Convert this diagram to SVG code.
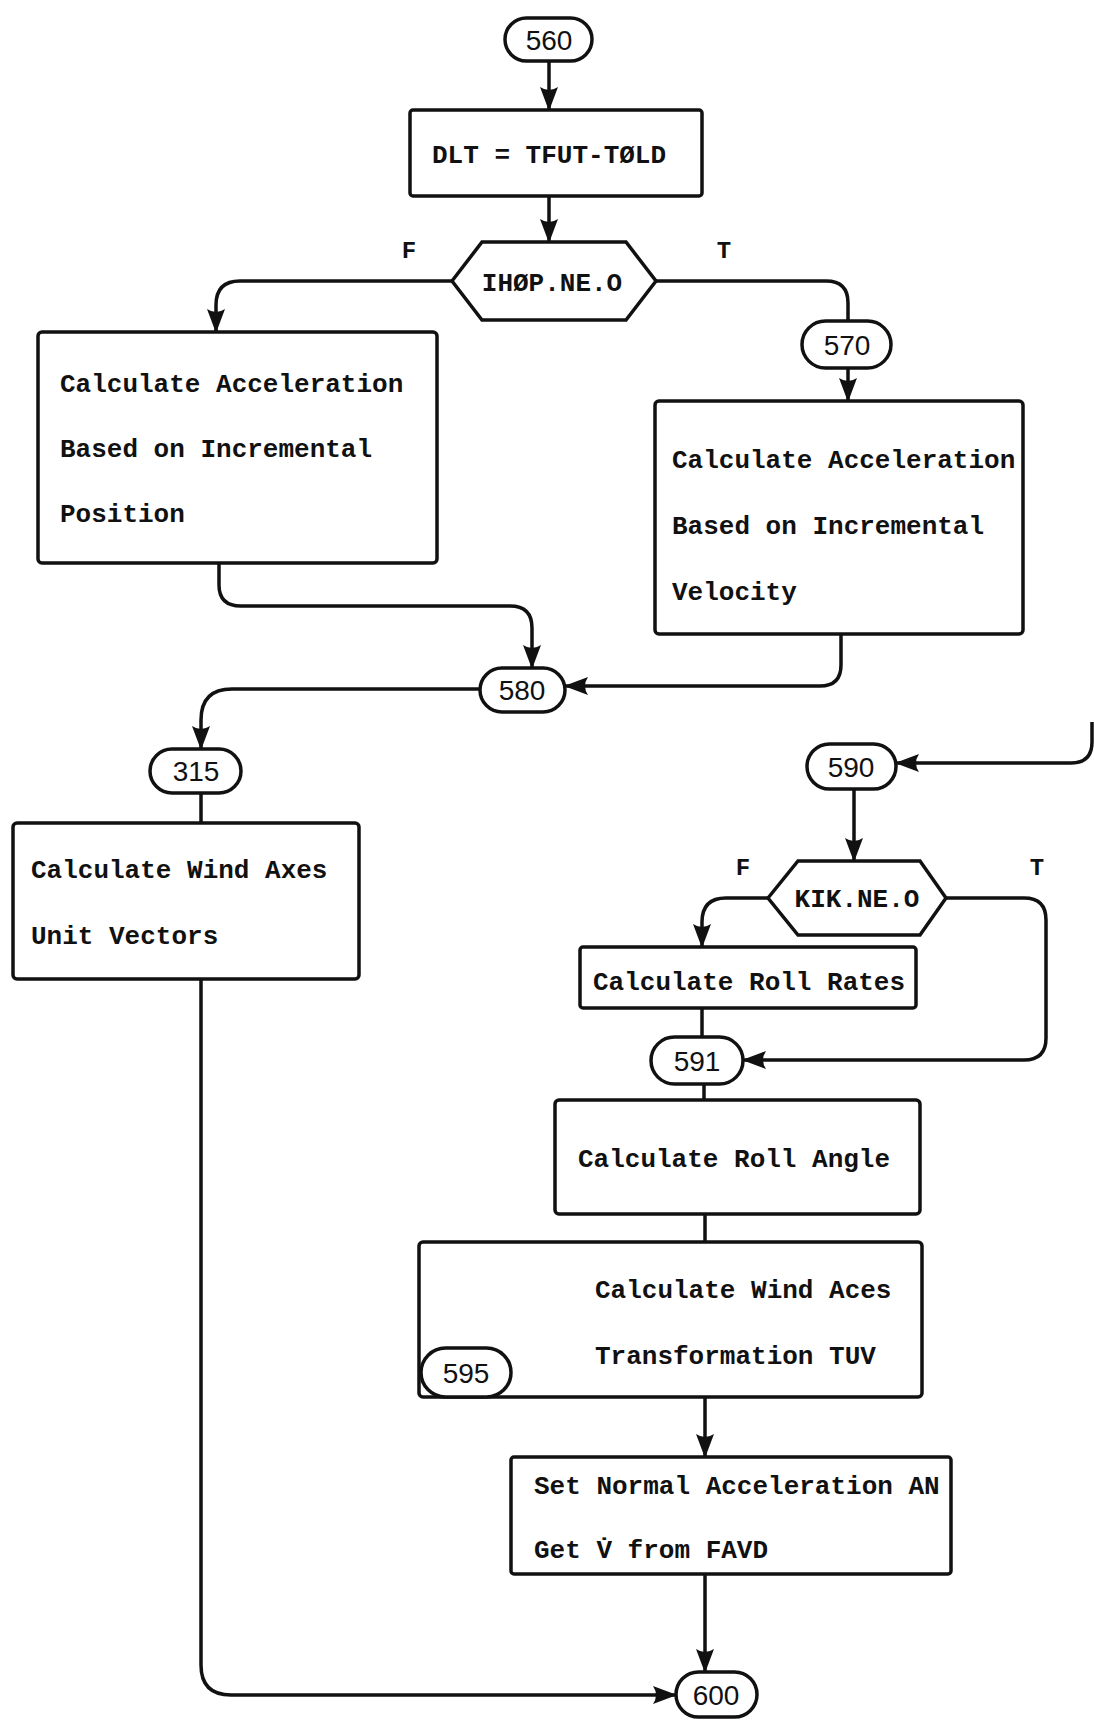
<svg xmlns="http://www.w3.org/2000/svg" width="1094" height="1720" viewBox="0 0 1094 1720">
<style>
.box{fill:#fff;stroke:#111;stroke-width:3.5}
.term{fill:#fff;stroke:#111;stroke-width:3.5}
.ln{fill:none;stroke:#111;stroke-width:3.5}
.t{font-family:"Liberation Mono","DejaVu Sans Mono",monospace;font-weight:bold;font-size:26px;fill:#111}
.n{font-family:"Liberation Sans",Arial,sans-serif;font-size:28px;fill:#111;text-anchor:middle}
.lbl{font-family:"Liberation Mono","DejaVu Sans Mono",monospace;font-weight:bold;font-size:24px;fill:#111;text-anchor:middle}
</style>
<defs>
<marker id="ah" viewBox="0 0 24 18" refX="23" refY="9" markerWidth="24" markerHeight="18" orient="auto" markerUnits="userSpaceOnUse">
<path d="M0,0 L24,9 L0,18 Q6,9 0,0 z" fill="#111"/>
</marker>
</defs>
<rect width="1094" height="1720" fill="#fff"/>
<g id="connectors">
<path class="ln" d="M549 61 V110" marker-end="url(#ah)"/>
<path class="ln" d="M549 196 V242" marker-end="url(#ah)"/>
<path class="ln" d="M452 281 H240 Q216 281 216 305 V332" marker-end="url(#ah)"/>
<path class="ln" d="M656 281 H826 Q848 281 848 303 V321"/>
<path class="ln" d="M848 368 V401" marker-end="url(#ah)"/>
<path class="ln" d="M219 563 V585 Q219 606 241 606 H510 Q532 606 532 628 V668" marker-end="url(#ah)"/>
<path class="ln" d="M841 634 V665 Q841 686 820 686 H565" marker-end="url(#ah)"/>
<path class="ln" d="M480 689 H232 Q201 689 201 720 V749" marker-end="url(#ah)"/>
<path class="ln" d="M201 793 V823"/>
<path class="ln" d="M201 979 V1665 Q201 1695 231 1695 H676" marker-end="url(#ah)"/>
<path class="ln" d="M1092 722 V742 Q1092 763 1071 763 H896" marker-end="url(#ah)"/>
<path class="ln" d="M854 789 V861" marker-end="url(#ah)"/>
<path class="ln" d="M768 898 H726 Q702 898 702 922 V947" marker-end="url(#ah)"/>
<path class="ln" d="M946 898 H1024 Q1046 898 1046 920 V1038 Q1046 1060 1024 1060 H743" marker-end="url(#ah)"/>
<path class="ln" d="M702 1008 V1037"/>
<path class="ln" d="M704 1084 V1100"/>
<path class="ln" d="M705 1214 V1242"/>
<path class="ln" d="M705 1397 V1457" marker-end="url(#ah)"/>
<path class="ln" d="M705 1574 V1672" marker-end="url(#ah)"/>
</g>
<g id="n560"><rect class="term" x="505" y="18" width="87" height="43" rx="21.5"/><text class="n" x="549" y="50">560</text></g>
<g id="dlt"><rect class="box" x="410" y="110" width="292" height="86" rx="3"/><text class="t" x="432" y="163">DLT = TFUT-TØLD</text></g>
<g id="ihop"><polygon class="box" points="452,281 482,242 626,242 656,281 626,320 482,320"/><text class="t" x="552" y="291" text-anchor="middle">IHØP.NE.O</text><text class="lbl" x="409" y="258">F</text><text class="lbl" x="724" y="258">T</text></g>
<g id="accpos"><rect class="box" x="38" y="332" width="399" height="231" rx="4"/><text class="t" x="60" y="392">Calculate Acceleration</text><text class="t" x="60" y="457">Based on Incremental</text><text class="t" x="60" y="522">Position</text></g>
<g id="n570"><rect class="term" x="802" y="321" width="89" height="47" rx="23.5"/><text class="n" x="847" y="355">570</text></g>
<g id="accvel"><rect class="box" x="655" y="401" width="368" height="233" rx="4"/><text class="t" x="672" y="468">Calculate Acceleration</text><text class="t" x="672" y="534">Based on Incremental</text><text class="t" x="672" y="600">Velocity</text></g>
<g id="n580"><rect class="term" x="480" y="668" width="85" height="44" rx="22"/><text class="n" x="522" y="700">580</text></g>
<g id="n315"><rect class="term" x="150" y="749" width="91" height="44" rx="22"/><text class="n" x="196" y="781">315</text></g>
<g id="windaxes"><rect class="box" x="13" y="823" width="346" height="156" rx="4"/><text class="t" x="31" y="878">Calculate Wind Axes</text><text class="t" x="31" y="944">Unit Vectors</text></g>
<g id="n590"><rect class="term" x="807" y="744" width="89" height="45" rx="22.5"/><text class="n" x="851" y="777">590</text></g>
<g id="kik"><polygon class="box" points="768,898 798,861 920,861 946,898 920,935 798,935"/><text class="t" x="857" y="907" text-anchor="middle">KIK.NE.O</text><text class="lbl" x="743" y="875">F</text><text class="lbl" x="1037" y="875">T</text></g>
<g id="rollrates"><rect class="box" x="580" y="947" width="336" height="61" rx="3"/><text class="t" x="593" y="990">Calculate Roll Rates</text></g>
<g id="n591"><rect class="term" x="651" y="1037" width="92" height="47" rx="23.5"/><text class="n" x="697" y="1071">591</text></g>
<g id="rollangle"><rect class="box" x="555" y="1100" width="365" height="114" rx="4"/><text class="t" x="578" y="1167">Calculate Roll Angle</text></g>
<g id="tuv"><rect class="box" x="419" y="1242" width="503" height="155" rx="4"/><text class="t" x="595" y="1298">Calculate Wind Aces</text><text class="t" x="595" y="1364">Transformation TUV</text></g>
<g id="n595"><rect class="term" x="421" y="1348" width="90" height="49" rx="24.5"/><text class="n" x="466" y="1383">595</text></g>
<g id="setan"><rect class="box" x="511" y="1457" width="440" height="117" rx="3"/><text class="t" x="534" y="1494">Set Normal Acceleration AN</text><text class="t" x="534" y="1558">Get V̇ from FAVD</text></g>
<g id="n600"><rect class="term" x="676" y="1672" width="81" height="45" rx="22.5"/><text class="n" x="716" y="1705">600</text></g>
</svg>
